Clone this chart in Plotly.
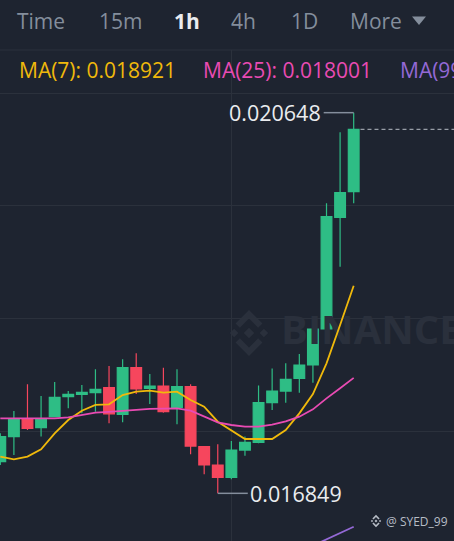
import plotly.graph_objects as go

W, H = 454, 541
BG = "#1e2430"
GRID = "#2b313c"
GREEN = "#2ebd85"
RED = "#f6465d"
YELLOW = "#f0b90b"
PINK = "#e94bb3"
PURPLE = "#9469d6"
TEXT = "#eaecef"
MUTED = "#848e9c"
WATER = "#2a303c"
FONT = "Open Sans"

# ---------------- data ----------------
candle_idx = list(range(27))
opens = [0.017165, 0.017415, 0.017588, 0.017504, 0.017614, 0.017814, 0.017837, 0.017854, 0.017904,
         0.017637, 0.018103, 0.017897, 0.017920, 0.017707, 0.017914, 0.017315, 0.017132, 0.017009,
         0.017281, 0.017358, 0.017754, 0.017870, 0.017997, 0.018130, 0.018489, 0.019603, 0.019860]
highs = [0.017448, 0.017671, 0.017937, 0.017820, 0.017960, 0.017870, 0.017930, 0.018087, 0.018120,
         0.018186, 0.018246, 0.018040, 0.018103, 0.018087, 0.017937, 0.017315, 0.017338, 0.017371,
         0.017415, 0.017924, 0.018096, 0.018146, 0.018240, 0.018489, 0.019743, 0.020452, 0.020648]
lows = [0.017132, 0.017232, 0.017481, 0.017415, 0.017614, 0.017697, 0.017647, 0.017664, 0.017548,
        0.017558, 0.017840, 0.017741, 0.017654, 0.017538, 0.017238, 0.017039, 0.016849, 0.016989,
        0.017225, 0.017348, 0.017681, 0.017754, 0.017854, 0.017953, 0.018489, 0.019111, 0.019743]
closes = [0.017415, 0.017588, 0.017498, 0.017588, 0.017807, 0.017837, 0.017857, 0.017887, 0.017641,
          0.018103, 0.017890, 0.017920, 0.017664, 0.017914, 0.017321, 0.017132, 0.017009, 0.017281,
          0.017358, 0.017754, 0.017870, 0.017987, 0.018130, 0.018489, 0.019610, 0.019850, 0.020482]

ma7 = [0.017215, 0.017188, 0.017215, 0.017288, 0.017448, 0.017581, 0.017674, 0.017731, 0.017737,
       0.017830, 0.017864, 0.017874, 0.017854, 0.017864, 0.017780, 0.017714, 0.017564, 0.017481,
       0.017391, 0.017391, 0.017391, 0.017481, 0.017647, 0.017840, 0.018146, 0.018529, 0.018921]
ma25 = [0.017598, 0.017598, 0.017598, 0.017598, 0.017598, 0.017607, 0.017631, 0.017654, 0.017661,
        0.017674, 0.017681, 0.017691, 0.017697, 0.017697, 0.017674, 0.017614, 0.017558, 0.017531,
        0.017514, 0.017514, 0.017534, 0.017568, 0.017614, 0.017687, 0.017797, 0.017897, 0.018001]
ma99_idx = [23, 24, 25, 26]
ma99 = [0.016327, 0.016390, 0.016453, 0.016516]

ma_labels = ["MA(7): 0.018921", "MA(25): 0.018001", "MA(99): 0.016516"]
tabs = ["Time", "15m", "1h", "4h", "1D", "More"]
active_tab = "1h"
high_label = "0.020648"
low_label = "0.016849"
high_idx, low_idx = 26, 16
last_price = 0.020482
grid_prices = [0.020841, 0.019717, 0.018592, 0.017471]
grid_times = [17]
handle = "@ SYED_99"
watermark = "BINANCE"

X_RANGE = [-0.022, 33.38]
Y_RANGE = [0.0163733, 0.0212734]
PLOT_TOP = 50


# ---------------- helpers ----------------
def px(x):
    return x / W


def py(y):
    return 1 - y / H


def pix_to_data(x, y):
    dx = X_RANGE[0] + (X_RANGE[1] - X_RANGE[0]) * x / W
    dy = Y_RANGE[1] - (Y_RANGE[1] - Y_RANGE[0]) * (y - PLOT_TOP) / (H - PLOT_TOP)
    return dx, dy


def logo_paths(cx, cy, s):
    polys = [
        [(0, -0.22), (0.22, 0), (0, 0.22), (-0.22, 0)],
        [(-0.62, -0.18), (-0.44, 0), (-0.62, 0.18), (-0.80, 0)],
        [(0.62, -0.18), (0.80, 0), (0.62, 0.18), (0.44, 0)],
        [(-0.56, -0.40), (0, -0.96), (0.56, -0.40), (0.38, -0.22), (0, -0.60), (-0.38, -0.22)],
        [(-0.56, 0.40), (0, 0.96), (0.56, 0.40), (0.38, 0.22), (0, 0.60), (-0.38, 0.22)],
    ]
    out = []
    for poly in polys:
        pts = [(px(cx + u * s), py(cy + v * s)) for u, v in poly]
        d = "M " + " L ".join(f"{a:.5f},{b:.5f}" for a, b in pts) + " Z"
        out.append(d)
    return out


# ---------------- figure ----------------
fig = go.Figure()

# watermark text drawn first so the candles sit on top of it
wx, wy = pix_to_data(281, 334)
fig.add_trace(go.Scatter(x=[wx], y=[wy], mode="text", text=[f"<b>{watermark}</b>"],
                         textposition="middle right",
                         textfont=dict(family=FONT, size=40, color=WATER),
                         showlegend=False, hoverinfo="skip", cliponaxis=False))

fig.add_trace(go.Candlestick(
    x=candle_idx, open=opens, high=highs, low=lows, close=closes,
    increasing=dict(line=dict(color=GREEN, width=1.2), fillcolor=GREEN),
    decreasing=dict(line=dict(color=RED, width=1.2), fillcolor=RED),
    whiskerwidth=0, showlegend=False, hoverinfo="skip",
))
fig.add_trace(go.Scatter(x=candle_idx, y=ma7, mode="lines",
                         line=dict(color=YELLOW, width=1.8), showlegend=False, hoverinfo="skip"))
fig.add_trace(go.Scatter(x=candle_idx, y=ma25, mode="lines",
                         line=dict(color=PINK, width=1.8), showlegend=False, hoverinfo="skip"))
fig.add_trace(go.Scatter(x=ma99_idx, y=ma99, mode="lines",
                         line=dict(color=PURPLE, width=1.8), showlegend=False, hoverinfo="skip"))

shapes = []
annotations = []

# header separator
shapes.append(dict(type="line", xref="paper", yref="paper", x0=0, x1=1, y0=py(50), y1=py(50),
                   line=dict(color=GRID, width=1.2), layer="below"))

# tabs
tab_centers = [40.5, 120, 187, 244, 304, 376]
for name, cx in zip(tabs, tab_centers):
    active = name == active_tab
    annotations.append(dict(
        xref="paper", yref="paper", x=px(cx), y=py(21), xanchor="center", yanchor="middle",
        text=f"<b>{name}</b>" if active else name, showarrow=False,
        font=dict(family=FONT, size=21, color=TEXT if active else MUTED)))
shapes.append(dict(type="path", xref="paper", yref="paper",
                   path=f"M {px(412):.5f},{py(16.5):.5f} L {px(426):.5f},{py(16.5):.5f} "
                        f"L {px(419):.5f},{py(25):.5f} Z",
                   fillcolor=MUTED, line=dict(width=0)))

# MA legend row
for label, x0, col in zip(ma_labels, [17, 201, 398], [YELLOW, PINK, PURPLE]):
    annotations.append(dict(
        xref="paper", yref="paper", x=px(x0), y=py(70), xanchor="left", yanchor="middle",
        text=label, showarrow=False, font=dict(family=FONT, size=21, color=col)))

# watermark logo
for d in logo_paths(249, 333, 24):
    shapes.append(dict(type="path", xref="paper", yref="paper", path=d,
                       fillcolor=WATER, line=dict(width=0), layer="below"))

# handle
for d in logo_paths(376, 521, 6.5):
    shapes.append(dict(type="path", xref="paper", yref="paper", path=d,
                       fillcolor="#b7bdc6", line=dict(width=0)))
annotations.append(dict(
    xref="paper", yref="paper", x=px(384), y=py(521), xanchor="left", yanchor="middle",
    text=handle, showarrow=False, font=dict(family=FONT, size=12, color="#b7bdc6")))

# last price dashed line
shapes.append(dict(type="line", xref="x", yref="y", x0=high_idx + 0.5, x1=40,
                   y0=last_price, y1=last_price,
                   line=dict(color="#b7bdc6", width=1, dash="4px,3px")))

# high / low markers
span = 30 / 13.59
shapes.append(dict(type="line", xref="x", yref="y", x0=high_idx, x1=high_idx - span,
                   y0=highs[high_idx], y1=highs[high_idx], line=dict(color=MUTED, width=1.5)))
annotations.append(dict(xref="x", yref="y", x=high_idx - span - 0.03, y=highs[high_idx],
                        xanchor="right", yanchor="middle", text=high_label, showarrow=False,
                        font=dict(family=FONT, size=21.5, color=TEXT)))
shapes.append(dict(type="line", xref="x", yref="y", x0=low_idx, x1=low_idx + span,
                   y0=lows[low_idx], y1=lows[low_idx], line=dict(color=MUTED, width=1.5)))
annotations.append(dict(xref="x", yref="y", x=low_idx + span + 0.03, y=lows[low_idx],
                        xanchor="left", yanchor="middle", text=low_label, showarrow=False,
                        font=dict(family=FONT, size=21.5, color=TEXT)))

fig.update_layout(
    width=W, height=H, margin=dict(l=0, r=0, t=0, b=0),
    paper_bgcolor=BG, plot_bgcolor=BG,
    boxgap=0.21, boxgroupgap=0,
    shapes=shapes, annotations=annotations,
    font=dict(family=FONT),
    xaxis=dict(range=X_RANGE, tickvals=grid_times, showticklabels=False,
               showgrid=True, gridcolor=GRID, gridwidth=1, zeroline=False, showline=False,
               rangeslider=dict(visible=False), fixedrange=True),
    yaxis=dict(domain=[0, 1 - PLOT_TOP / H], range=Y_RANGE, tickvals=grid_prices,
               showticklabels=False, showgrid=True, gridcolor=GRID, gridwidth=1,
               zeroline=False, showline=False, fixedrange=True),
    hovermode=False,
)

fig.write_html(
    "out.html",
    config={"displayModeBar": False},
    post_script="document.body.style.margin='0';document.body.style.overflow='hidden';"
                "document.body.style.background='" + BG + "';",
)
